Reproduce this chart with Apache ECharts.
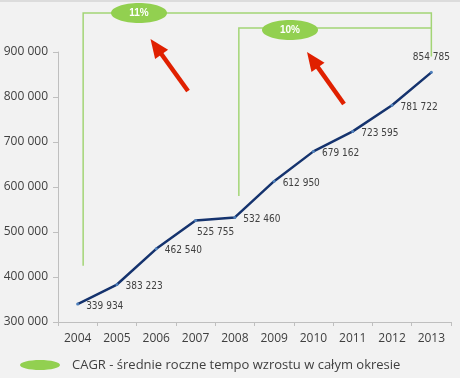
<!DOCTYPE html>
<html>
<head>
<meta charset="utf-8">
<script src="https://cdn.jsdelivr.net/npm/echarts@6/dist/echarts.min.js"></script>
<style>
html,body{margin:0;padding:0;background:#f2f2f2;}
#c{width:460px;height:378px;}
</style>
</head>
<body>
<div id="c"></div>
<script>
const years = ['2004','2005','2006','2007','2008','2009','2010','2011','2012','2013'];
const values = [339934, 383223, 462540, 525755, 532460, 612950, 679162, 723595, 781722, 854785];
const yTicks = [300000, 400000, 500000, 600000, 700000, 800000, 900000];
const cagrLabels = ['11%', '10%'];
const cagrRanges = [['2004','2013'], ['2008','2013']];
const legendText = 'CAGR - średnie roczne tempo wzrostu w całym okresie';

function fmt(v){ return String(v).replace(/\B(?=(\d{3})+(?!\d))/g, ' '); }

const chart = echarts.init(document.getElementById('c'));
const labelFont = '"DejaVu Sans Condensed","Liberation Sans",sans-serif';
const axisFont = '"Open Sans","Liberation Sans",sans-serif';

const dataItems = values.map((v, i) => {
  const item = {value: v};
  if (i === 3) item.label = {position: 'bottom', offset: [20, -2]};
  if (i === values.length - 1) item.label = {position: 'top', offset: [0, -1]};
  return item;
});

chart.setOption({
  backgroundColor: '#f2f2f2',
  animation: false,
  grid: {left: 58, right: 9, top: 52, bottom: 56},
  xAxis: {
    type: 'category', data: years, boundaryGap: true,
    axisLine: {lineStyle: {color: '#bfbfbf', width: 1}},
    axisTick: {show: true, length: 4, lineStyle: {color: '#bfbfbf'}},
    axisLabel: {color: '#404040', fontSize: 12, fontFamily: axisFont, margin: 11}
  },
  yAxis: {
    type: 'value', min: yTicks[0], max: yTicks[yTicks.length-1], interval: 100000,
    axisLine: {show: true, lineStyle: {color: '#bfbfbf'}},
    axisTick: {show: true, length: 5, lineStyle: {color: '#bfbfbf'}},
    splitLine: {show: false},
    axisLabel: {color: '#404040', fontSize: 12, fontFamily: axisFont, margin: 10, formatter: v => fmt(v)}
  },
  series: [{
    type: 'line', data: dataItems,
    lineStyle: {color: '#15336e', width: 2.5},
    itemStyle: {color: '#4f81bd'},
    symbol: 'circle', symbolSize: 3, showSymbol: true,
    label: {show: true, position: 'right', distance: 7, offset: [0, 2],
      formatter: p => fmt(p.value), color: '#404040', fontSize: 10, fontFamily: labelFont},
    z: 5
  }]
});

function px(cat, val){ return chart.convertToPixel({gridIndex: 0}, [cat, val]); }

const green = '#92d050';
const lineGreen = '#a3d576';
const gfx = [];
const bracketTopY = [13, 28];
const bracketBottomVal = [425000, 580000];
const ellCx = [139, 290];
const rightEnd = px('2013', 890000);
cagrRanges.forEach((r, k) => {
  const left = px(r[0], bracketBottomVal[k]);
  const lx = left[0] + (k === 0 ? 5.5 : 4);
  const rx = rightEnd[0];
  const ty = bracketTopY[k];
  gfx.push({type: 'polyline', shape: {points: [[lx, left[1]], [lx, ty], [rx, ty], [rx, k === 0 ? rightEnd[1] : ty]]},
    style: {stroke: lineGreen, lineWidth: 1.5, fill: null}, z: 1});
  gfx.push({type: 'ellipse', shape: {cx: ellCx[k], cy: ty + (k === 1 ? 2 : 0), rx: 28, ry: 10},
    style: {fill: green}, z: 3});
  gfx.push({type: 'text', x: ellCx[k], y: ty + (k === 1 ? 2 : 0),
    style: {text: cagrLabels[k], fill: '#ffffff', font: 'bold 10px "Liberation Sans",sans-serif',
      align: 'center', verticalAlign: 'middle'}, z: 4});
});
const arrows = [[[188, 91], [150.5, 39]], [[344, 104], [307, 52]]];
arrows.forEach(a => {
  const [t, h] = a;
  const dx = h[0] - t[0], dy = h[1] - t[1];
  const L = Math.sqrt(dx*dx + dy*dy);
  const ux = dx / L, uy = dy / L, nx = -uy, ny = ux;
  const hl = 19, hw = 8;
  const bx = h[0] - ux*hl, by = h[1] - uy*hl;
  gfx.push({type: 'line', shape: {x1: t[0], y1: t[1], x2: bx + ux*2, y2: by + uy*2},
    style: {stroke: '#e02000', lineWidth: 4.5}, z: 6});
  gfx.push({type: 'polygon', shape: {points: [[h[0], h[1]], [bx + nx*hw, by + ny*hw], [bx - nx*hw, by - ny*hw]]},
    style: {fill: '#e02000'}, z: 6});
});
gfx.push({type: 'rect', shape: {x: 0, y: 0, width: 460, height: 2}, style: {fill: '#dcdcdc'}, z: 0});
gfx.push({type: 'ellipse', shape: {cx: 40, cy: 365, rx: 20, ry: 5}, style: {fill: green}, z: 3});
gfx.push({type: 'text', x: 72, y: 365, style: {text: legendText, fill: '#404040',
  font: '13px "Open Sans","Liberation Sans",sans-serif', verticalAlign: 'middle'}, z: 3});

chart.setOption({graphic: {elements: gfx}});
</script>
</body>
</html>
